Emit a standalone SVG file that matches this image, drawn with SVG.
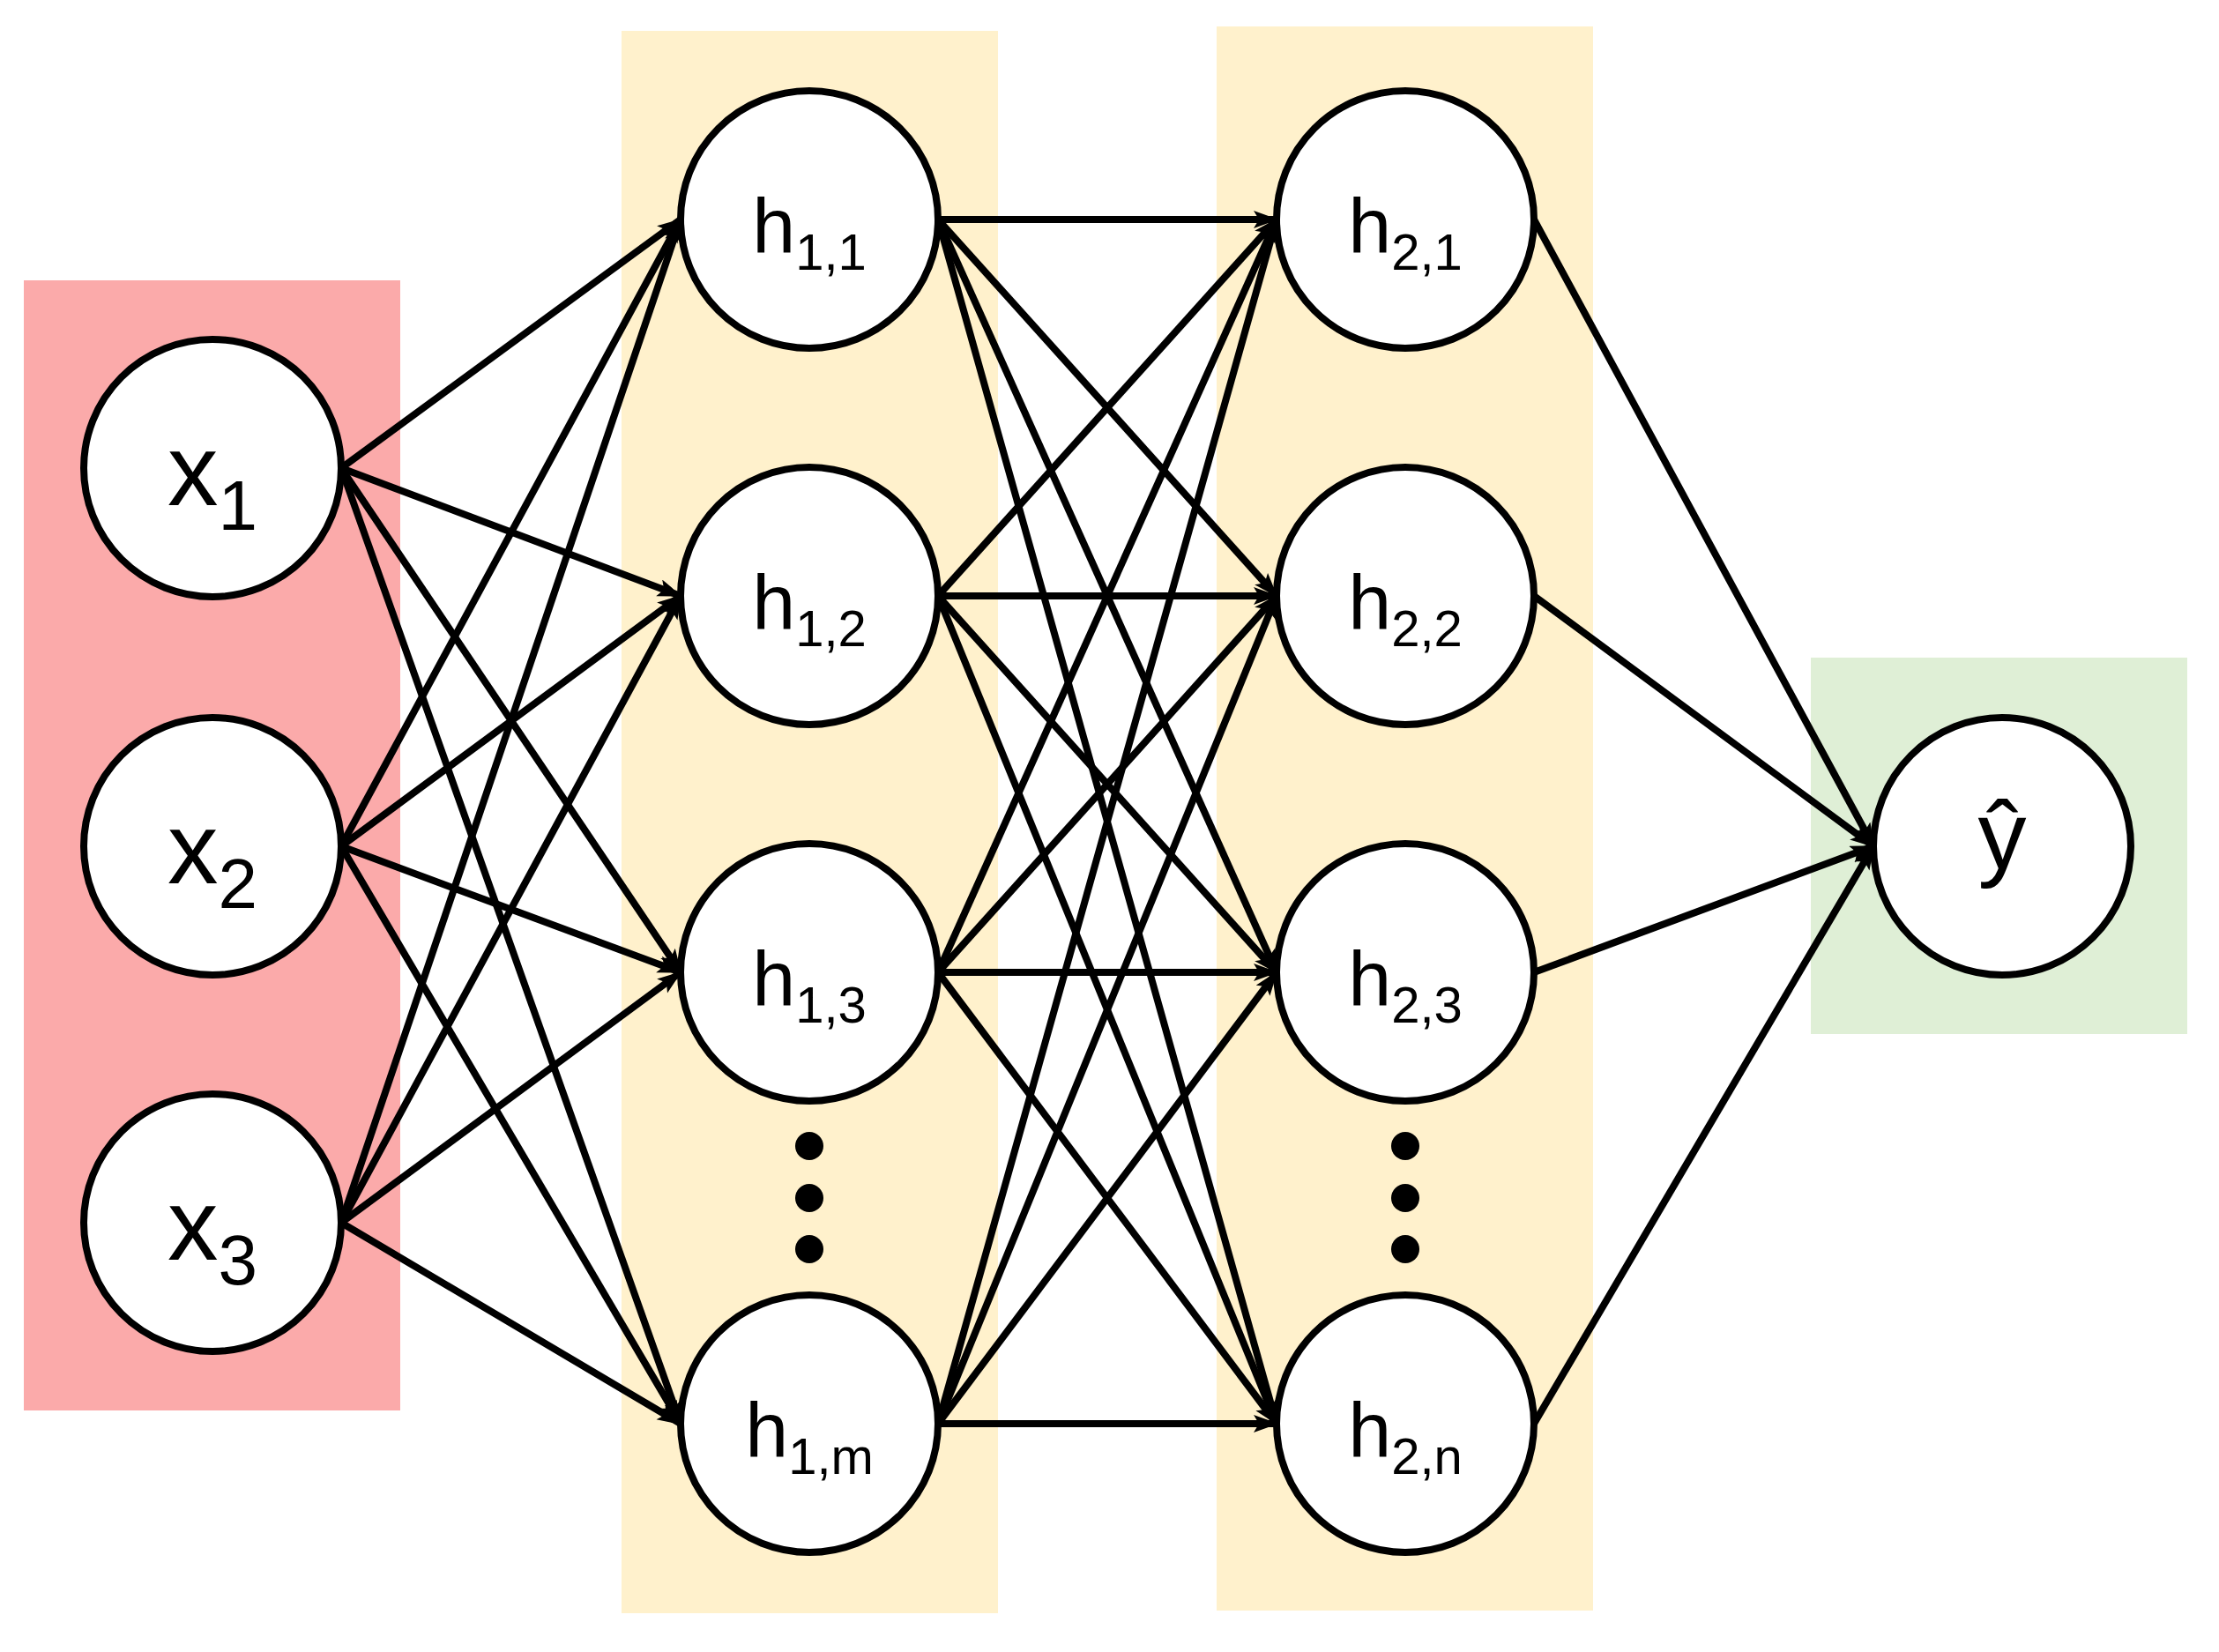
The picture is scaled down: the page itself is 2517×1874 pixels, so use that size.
<svg xmlns="http://www.w3.org/2000/svg" width="2517" height="1874" viewBox="0 0 2517 1874">
<style>
.n{fill:#fff;stroke:#000;stroke-width:8}
.t{font-family:"Liberation Sans",Arial,sans-serif;text-anchor:middle;fill:#000}
.e line{stroke:#000;stroke-width:8;marker-end:url(#a)}
</style>
<defs><marker id="a" markerUnits="userSpaceOnUse" markerWidth="30" markerHeight="24" refX="26" refY="10" orient="auto"><path d="M0,0 L28,10 L0,20 L6,10 Z" fill="#000"/></marker></defs>
<rect x="27" y="318" width="427" height="1282" fill="#fbaaaa"/>
<rect x="705" y="35" width="427" height="1795" fill="#fff1cc"/>
<rect x="1380" y="30" width="427" height="1797" fill="#fff1cc"/>
<rect x="2054" y="746" width="427" height="427" fill="#dfefd6"/>
<g class="e">
<line x1="387" y1="531" x2="772" y2="249"/><line x1="387" y1="531" x2="772" y2="676"/><line x1="387" y1="531" x2="772" y2="1103"/><line x1="387" y1="531" x2="772" y2="1615"/>
<line x1="387" y1="960" x2="772" y2="249"/><line x1="387" y1="960" x2="772" y2="676"/><line x1="387" y1="960" x2="772" y2="1103"/><line x1="387" y1="960" x2="772" y2="1615"/>
<line x1="387" y1="1387" x2="772" y2="249"/><line x1="387" y1="1387" x2="772" y2="676"/><line x1="387" y1="1387" x2="772" y2="1103"/><line x1="387" y1="1387" x2="772" y2="1615"/>
<line x1="1064" y1="249" x2="1448" y2="249"/><line x1="1064" y1="249" x2="1448" y2="676"/><line x1="1064" y1="249" x2="1448" y2="1103"/><line x1="1064" y1="249" x2="1448" y2="1615"/>
<line x1="1064" y1="676" x2="1448" y2="249"/><line x1="1064" y1="676" x2="1448" y2="676"/><line x1="1064" y1="676" x2="1448" y2="1103"/><line x1="1064" y1="676" x2="1448" y2="1615"/>
<line x1="1064" y1="1103" x2="1448" y2="249"/><line x1="1064" y1="1103" x2="1448" y2="676"/><line x1="1064" y1="1103" x2="1448" y2="1103"/><line x1="1064" y1="1103" x2="1448" y2="1615"/>
<line x1="1064" y1="1615" x2="1448" y2="249"/><line x1="1064" y1="1615" x2="1448" y2="676"/><line x1="1064" y1="1615" x2="1448" y2="1103"/><line x1="1064" y1="1615" x2="1448" y2="1615"/>
<line x1="1740" y1="249" x2="2125" y2="960"/><line x1="1740" y1="676" x2="2125" y2="960"/><line x1="1740" y1="1103" x2="2125" y2="960"/><line x1="1740" y1="1615" x2="2125" y2="960"/>
</g>
<g id="x1"><circle class="n" cx="241" cy="531" r="146"/><text class="t" x="241" y="573" font-size="115">x<tspan font-size="80" dy="28">1</tspan></text></g>
<g id="x2"><circle class="n" cx="241" cy="960" r="146"/><text class="t" x="241" y="1002" font-size="115">x<tspan font-size="80" dy="28">2</tspan></text></g>
<g id="x3"><circle class="n" cx="241" cy="1387" r="146"/><text class="t" x="241" y="1429" font-size="115">x<tspan font-size="80" dy="28">3</tspan></text></g>
<g id="h11"><circle class="n" cx="918" cy="249" r="146"/><text class="t" x="918" y="286" font-size="88">h<tspan font-size="58" dy="20">1,1</tspan></text></g>
<g id="h12"><circle class="n" cx="918" cy="676" r="146"/><text class="t" x="918" y="713" font-size="88">h<tspan font-size="58" dy="20">1,2</tspan></text></g>
<g id="h13"><circle class="n" cx="918" cy="1103" r="146"/><text class="t" x="918" y="1140" font-size="88">h<tspan font-size="58" dy="20">1,3</tspan></text></g>
<g id="h1m"><circle class="n" cx="918" cy="1615" r="146"/><text class="t" x="918" y="1652" font-size="88">h<tspan font-size="58" dy="20">1,m</tspan></text></g>
<g id="h21"><circle class="n" cx="1594" cy="249" r="146"/><text class="t" x="1594" y="286" font-size="88">h<tspan font-size="58" dy="20">2,1</tspan></text></g>
<g id="h22"><circle class="n" cx="1594" cy="676" r="146"/><text class="t" x="1594" y="713" font-size="88">h<tspan font-size="58" dy="20">2,2</tspan></text></g>
<g id="h23"><circle class="n" cx="1594" cy="1103" r="146"/><text class="t" x="1594" y="1140" font-size="88">h<tspan font-size="58" dy="20">2,3</tspan></text></g>
<g id="h2n"><circle class="n" cx="1594" cy="1615" r="146"/><text class="t" x="1594" y="1652" font-size="88">h<tspan font-size="58" dy="20">2,n</tspan></text></g>
<g id="y"><circle class="n" cx="2271" cy="960" r="146"/><text class="t" x="2271" y="985" font-size="110">ŷ</text></g>
<g id="dots1"><circle cx="918" cy="1300" r="16"/><circle cx="918" cy="1359" r="16"/><circle cx="918" cy="1417" r="16"/></g>
<g id="dots2"><circle cx="1594" cy="1300" r="16"/><circle cx="1594" cy="1359" r="16"/><circle cx="1594" cy="1417" r="16"/></g>
</svg>
